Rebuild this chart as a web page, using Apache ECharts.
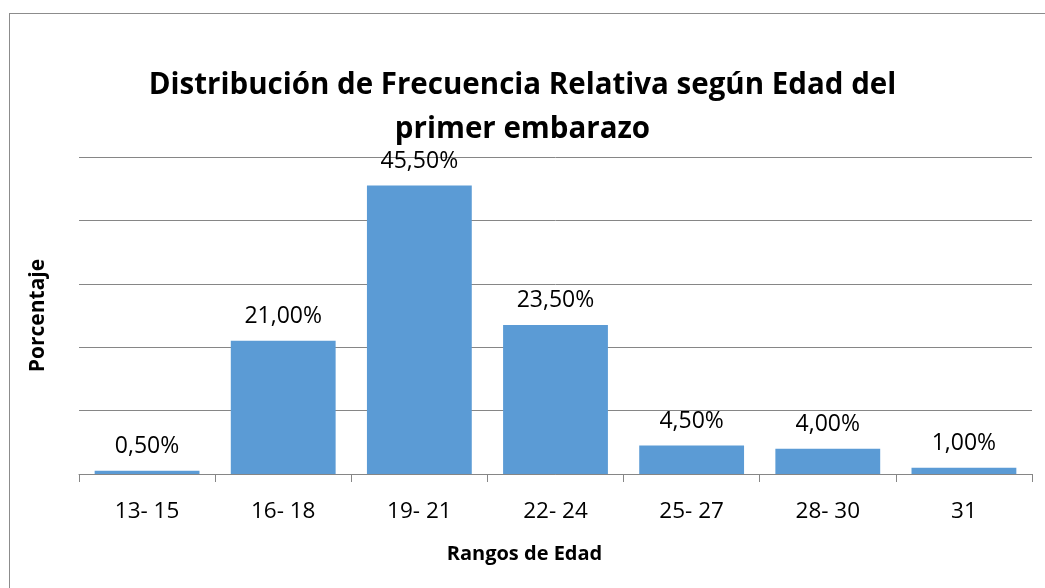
<!DOCTYPE html>
<html>
<head>
<meta charset="utf-8">
<script src="https://cdn.jsdelivr.net/npm/echarts@6/dist/echarts.min.js"></script>
<style>
  html, body { margin: 0; padding: 0; background: #fff; }
  #frame { position: absolute; left: 9px; top: 13px; width: 1045px; height: 600px; border: 1px solid #8c8c8c; box-sizing: border-box; }
  #chart { position: absolute; left: 0; top: 0; width: 1045px; height: 588px; }
</style>
</head>
<body>
<div id="frame"></div>
<div id="chart"></div>
<script>
// rangos de edad y porcentajes
const categories = ['13- 15', '16- 18', '19- 21', '22- 24', '25- 27', '28- 30', '31']
const values = [0.5, 21.0, 45.5, 23.5, 4.5, 4.0, 1.0]

const font = '"Open Sans", "Liberation Sans", sans-serif'
let chart = echarts.init(document.getElementById('chart'))
chart.setOption({
  animation: false,
  textStyle: { fontFamily: font },
  title: {
    text: 'Distribución de Frecuencia Relativa según Edad del\nprimer embarazo',
    left: 'center',
    top: 59,
    textStyle: { fontSize: 29.5, fontWeight: 'bold', color: '#000', lineHeight: 44, fontFamily: font }
  },
  grid: { left: 79, right: 13, top: 157, bottom: 114 },
  xAxis: {
    type: 'category',
    data: categories,
    name: 'Rangos de Edad',
    nameLocation: 'middle',
    nameGap: 70,
    nameTextStyle: { fontSize: 20, fontWeight: 'bold', color: '#000', padding: [0, 62, 0, 0] },
    axisLine: { lineStyle: { color: '#868686' } },
    axisTick: { show: true, length: 8, lineStyle: { color: '#868686' } },
    axisLabel: { fontSize: 22.5, color: '#000', margin: 26 }
  },
  yAxis: {
    type: 'value',
    min: 0,
    max: 50,
    interval: 10,
    name: 'Porcentaje',
    nameLocation: 'middle',
    nameGap: 30,
    nameTextStyle: { fontSize: 21, fontWeight: 'bold', color: '#000' },
    axisLabel: { show: false },
    axisLine: { show: false },
    axisTick: { show: false },
    splitLine: { lineStyle: { color: '#868686' } }
  },
  series: [{
    type: 'bar',
    data: values,
    barCategoryGap: '23%',
    itemStyle: { color: '#5B9BD5' },
    label: {
      show: true,
      position: 'top',
      distance: 13,
      fontSize: 23,
      color: '#000',
      formatter: p => p.value.toFixed(2).replace('.', ',') + '%'
    }
  }]
})
</script>
</body>
</html>
